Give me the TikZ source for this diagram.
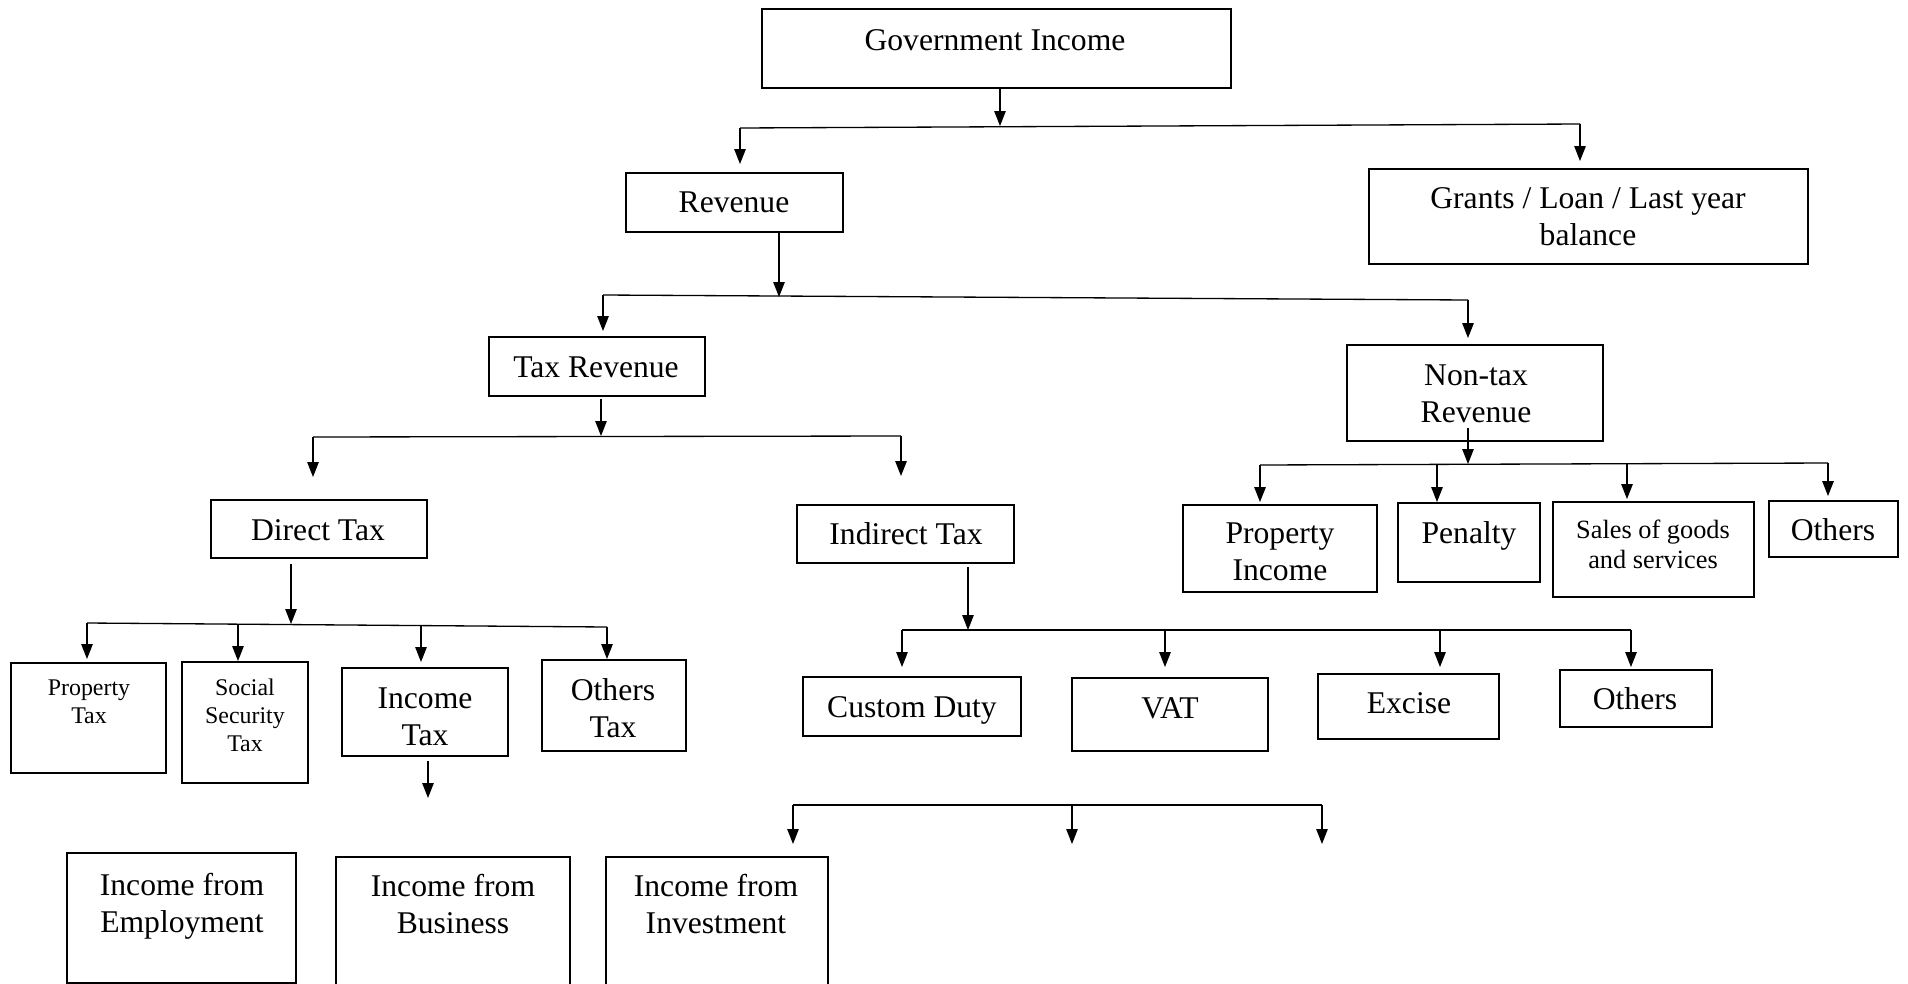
\documentclass[tikz,border=0pt]{standalone}
\usepackage{fontspec}
\setmainfont{Liberation Serif}
\usetikzlibrary{arrows.meta}
\usetikzlibrary{fit}
\tikzset{
	box/.style={draw=black, line width=1.1pt, inner sep=0pt},
	txt/.style={anchor=base, align=center, inner sep=0pt, font=\fontsize{18}{21}\selectfont},
	small/.style={font=\fontsize{13.6}{15.9}\selectfont},
	mid/.style={font=\fontsize{15}{17}\selectfont},
	bar/.style={line width=0.75pt},
	arr/.style={->, line width=0.75pt, shorten >=#1},
	arr/.default=0cm
}

\begin{document}
\begin{tikzpicture}[x=0.02cm, y=-0.02cm, >={Triangle[length=8.5pt, width=6.5pt]}]
	\useasboundingbox (0,0) rectangle (1908,984);
	\clip (0,0) rectangle (1908,984);

	% --- boxes ---
	\node[box, fit={(762,9) (1231,88)}]		(gov) {};
	\node[box, fit={(626,173) (843,232)}]	(rev) {};
	\node[box, fit={(1369,169) (1808,264)}]	(grants) {};
	\node[box, fit={(489,337) (705,396)}]	(taxrev) {};
	\node[box, fit={(1347,345) (1603,441)}]	(nontax) {};
	\node[box, fit={(211,500) (427,558)}]	(direct) {};
	\node[box, fit={(797,505) (1014,563)}]	(indirect) {};
	\node[box, fit={(1183,505) (1377,592)}]	(propinc) {};
	\node[box, fit={(1398,503) (1540,582)}]	(penalty) {};
	\node[box, fit={(1553,502) (1754,597)}]	(sales) {};
	\node[box, fit={(1769,501) (1898,557)}]	(othnt) {};
	\node[box, fit={(11,663) (166,773)}]		(proptax) {};
	\node[box, fit={(182,662) (308,783)}]	(sstax) {};
	\node[box, fit={(342,668) (508,756)}]	(inctax) {};
	\node[box, fit={(542,660) (686,751)}]	(othtax) {};
	\node[box, fit={(803,677) (1021,736)}]	(custom) {};
	\node[box, fit={(1072,678) (1268,751)}]	(vat) {};
	\node[box, fit={(1318,674) (1499,739)}]	(excise) {};
	\node[box, fit={(1560,670) (1712,727)}]	(othind) {};
	\node[box, fit={(67,853) (296,983)}]		(emp) {};
	\node[box, fit={(336,857) (570,995)}]	(bus) {};
	\node[box, fit={(606,857) (828,995)}]	(inv) {};

	% --- labels (base = last line) ---
	\node[txt] (gov-t)		at (995,50)		{Government Income};
	\node[txt] (rev-t)		at (734,212)	{Revenue};
	\node[txt] (grants-t)	at (1588,245)	{Grants / Loan / Last year\\balance};
	\node[txt] (taxrev-t)	at (596,377)	{Tax Revenue};
	\node[txt] (nontax-t)	at (1476,422)	{Non-tax\\Revenue};
	\node[txt] (direct-t)	at (318,540)	{Direct Tax};
	\node[txt] (indirect-t)	at (906,544)	{Indirect Tax};
	\node[txt] (propinc-t)	at (1280,580)	{Property\\Income};
	\node[txt] (penalty-t)	at (1469,543)	{Penalty};
	\node[txt, mid] (sales-t)	at (1653,568)	{Sales of goods\\and services};
	\node[txt] (othnt-t)	at (1833,540)	{Others};
	\node[txt, small] (proptax-t)	at (89,723)		{Property\\Tax};
	\node[txt, small] (sstax-t)	at (245,751)	{Social\\Security\\Tax};
	\node[txt] (inctax-t)	at (425,745)	{Income\\Tax};
	\node[txt] (othtax-t)	at (613,737)	{Others\\Tax};
	\node[txt] (custom-t)	at (912,717)	{Custom Duty};
	\node[txt] (vat-t)		at (1170,718)	{VAT};
	\node[txt] (excise-t)	at (1409,713)	{Excise};
	\node[txt] (othind-t)	at (1635,709)	{Others};
	\node[txt] (emp-t)		at (182,932)	{Income from\\Employment};
	\node[txt] (bus-t)		at (453,933)	{Income from\\Business};
	\node[txt] (inv-t)		at (716,933)	{Income from\\Investment};

	% --- bars ---
	\coordinate (b1)  at (1000,126);
	\coordinate (b1l) at (740,128);
	\coordinate (b1r) at (1580,124);
	\coordinate (b2)  at (779,297);
	\coordinate (b2l) at (603,295);
	\coordinate (b2r) at (1468,300);
	\coordinate (b3)  at (601,436);
	\coordinate (b3l) at (313,437);
	\coordinate (b3r) at (901,436);
	\coordinate (b4)  at (1468,464);
	\coordinate (b4a) at (1260,465);
	\coordinate (b4b) at (1437,464);
	\coordinate (b4c) at (1627,463);
	\coordinate (b4d) at (1828,463);
	\coordinate (b5)  at (291,624);
	\coordinate (b5a) at (87,623);
	\coordinate (b5b) at (238,624);
	\coordinate (b5c) at (421,626);
	\coordinate (b5d) at (607,627);
	\coordinate (b6)  at (968,630);
	\coordinate (b6a) at (902,630);
	\coordinate (b6b) at (1165,630);
	\coordinate (b6c) at (1440,630);
	\coordinate (b6d) at (1631,630);
	\coordinate (it)  at (428,798);
	\coordinate (b7a) at (793,805);
	\coordinate (b7b) at (1072,805);
	\coordinate (b7c) at (1322,805);
	\coordinate (e7a) at (793,844);
	\coordinate (e7b) at (1072,844);
	\coordinate (e7c) at (1322,844);

	\draw[bar] (b1l) -- (b1r);
	\draw[bar] (b2l) -- (b2r);
	\draw[bar] (b3l) -- (b3r);
	\draw[bar] (b4a) -- (b4d);
	\draw[bar] (b5a) -- (b5d);
	\draw[bar] (b6a) -- (b6d);
	\draw[bar] (b7a) -- (b7c);

	% --- arrows ---
	\draw[arr] (gov.south -| b1) -- (b1);
	\draw[arr=0.16cm] (b1l) -- (rev.north -| b1l);
	\draw[arr=0.14cm] (b1r) -- (grants.north -| b1r);

	\draw[arr] (rev.south -| b2) -- (b2);
	\draw[arr=0.1cm] (b2l) -- (taxrev.north -| b2l);
	\draw[arr=0.12cm] (b2r) -- (nontax.north -| b2r);

	\draw[arr, shorten <=0.04cm] (taxrev.south -| b3) -- (b3);
	\draw[arr=0.44cm] (b3l) -- (direct.north -| b3l);
	\draw[arr=0.56cm] (b3r) -- (indirect.north -| b3r);

	\draw[arr] ([yshift=0.28cm]nontax.south -| b4) -- (b4);
	\draw[arr=0.04cm] (b4a) -- (propinc.north -| b4a);
	\draw[arr] (b4b) -- (penalty.north -| b4b);
	\draw[arr=0.04cm] (b4c) -- (sales.north -| b4c);
	\draw[arr=0.08cm] (b4d) -- (othnt.north -| b4d);

	\draw[arr, shorten <=0.1cm] (direct.south -| b5) -- (b5);
	\draw[arr=0.06cm] (b5a) -- (proptax.north -| b5a);
	\draw[arr] (b5b) -- (sstax.north -| b5b);
	\draw[arr=0.1cm] (b5c) -- (inctax.north -| b5c);
	\draw[arr] (b5d) -- (othtax.north -| b5d);

	\draw[arr, shorten <=0.08cm] (inctax.south -| it) -- (it);

	\draw[arr, shorten <=0.06cm] (indirect.south -| b6) -- (b6);
	\draw[arr=0.18cm] (b6a) -- (custom.north -| b6a);
	\draw[arr=0.2cm] (b6b) -- (vat.north -| b6b);
	\draw[arr=0.12cm] (b6c) -- (excise.north -| b6c);
	\draw[arr=0.04cm] (b6d) -- (othind.north -| b6d);

	\draw[arr] (b7a) -- (e7a);
	\draw[arr] (b7b) -- (e7b);
	\draw[arr] (b7c) -- (e7c);

\end{tikzpicture}
\end{document}
